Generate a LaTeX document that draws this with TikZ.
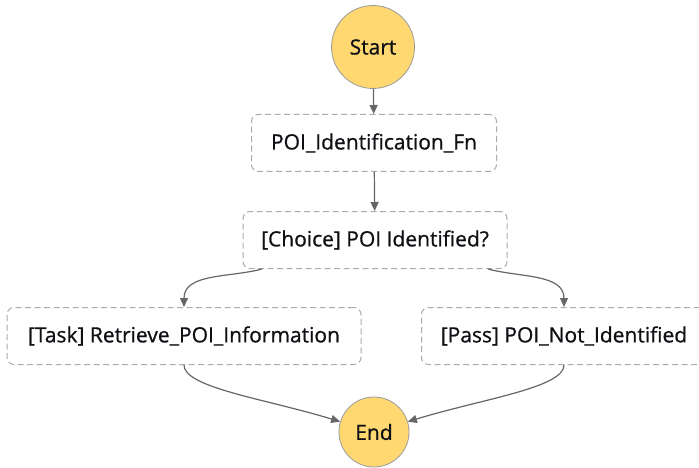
\documentclass[tikz,border=0pt]{standalone}
\usepackage{fontspec}
\setmainfont{Open Sans}[BoldFont=Open Sans, BoldFeatures={FakeBold=0.8}]
\usetikzlibrary{arrows.meta, positioning}
\definecolor{stategold}{HTML}{FFD872}
\definecolor{stateedge}{HTML}{9A9A9A}
\definecolor{boxedge}{HTML}{ABABAB}
\definecolor{flowgray}{HTML}{666666}
\definecolor{labelink}{HTML}{0E1014}

\begin{document}
\begin{tikzpicture}[x=1pt, y=-1pt,
		terminal/.style={circle, draw=stateedge, fill=stategold, line width=0.8pt,
				inner sep=0pt, text=labelink, font=\fontsize{21}{24}\selectfont\bfseries},
		state/.style={rectangle, draw=boxedge, dash pattern=on 6pt off 3.5pt,
				rounded corners=7pt, line width=1pt, minimum height=57pt,
				align=center, text=labelink, font=\fontsize{21}{24}\selectfont\bfseries},
		flow/.style={draw=flowgray, line width=1.2pt,
				-{Triangle[length=9pt, width=8pt]}},
	]
	\useasboundingbox (0, 0) rectangle (699, 468);

	\node (start)  [terminal, minimum size=83pt] at (373, 47)  {Start};
	\node (idfn)   [state, minimum width=245pt]  at (374, 143) {POI\_Identification\_Fn};
	\node (choice) [state, minimum width=264pt]  at (375, 240) {[Choice] POI Identified?};
	\node (task)   [state, minimum width=354pt]  at (184, 336) {[Task] Retrieve\_POI\_Information};
	\node (pass)   [state, minimum width=285pt]  at (564, 336) {[Pass] POI\_Not\_Identified};
	\node (end)    [terminal, minimum size=70pt] at (374, 432) {End};

	% straight run down the middle
	\draw [flow] (start) -- (idfn);
	\draw [flow] (idfn) -- (choice);
	% choice branches
	\draw [flow] ([xshift=-113pt]choice.south) to[out=-165, in=90] (task.north);
	\draw [flow] ([xshift=113pt]choice.south) to[out=-15, in=90] (pass.north);
	% both branches join at the end state
	\draw [flow] (task.south) to[out=-90, in=163, out looseness=0.35, in looseness=1.2] (end.163);
	\draw [flow] (pass.south) to[out=-90, in=17, out looseness=0.35, in looseness=1.2] (end.17);
\end{tikzpicture}
\end{document}
